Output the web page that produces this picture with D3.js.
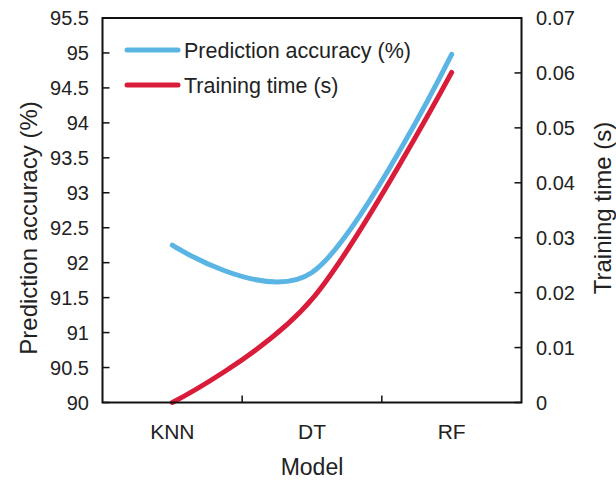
<!DOCTYPE html>
<html><head><meta charset="utf-8">
<script src="https://cdn.jsdelivr.net/npm/d3@7"></script>
<style>body{margin:0;background:#fff}text{font-family:"Liberation Sans",Arial,sans-serif;fill:#222}</style>
</head><body>
<svg id="c" width="616" height="481"></svg>
<script>
const categories = ["KNN", "DT", "RF"];
const accuracy = [92.25, 91.86, 94.98];
const trainingTime = [0.0, 0.0188, 0.0601];
const leftTicks = [90, 90.5, 91, 91.5, 92, 92.5, 93, 93.5, 94, 94.5, 95, 95.5];
const rightTicks = [0, 0.01, 0.02, 0.03, 0.04, 0.05, 0.06, 0.07];
const seriesNames = ["Prediction accuracy (%)", "Training time (s)"];
const colors = ["#5bb5e4", "#d91c3a"];

const svg = d3.select("#c");
const L = 102.5, R = 521.5, T = 18, B = 402.5;
const x = d3.scaleBand().domain(categories).range([L, R]).padding(0);
const yL = d3.scaleLinear().domain([90, 95.5]).range([B, T]);
const yR = d3.scaleLinear().domain([0, 0.07]).range([B, T]);
const cx = d => x(d) + x.bandwidth() / 2;

// lines
const curve = d3.curveCardinal.tension(0);
const lineA = d3.line().x((d, i) => cx(categories[i])).y(d => yL(d)).curve(curve);
const lineT = d3.line().x((d, i) => cx(categories[i])).y(d => yR(d)).curve(curve);
svg.append("path").attr("d", lineT(trainingTime)).attr("fill", "none")
  .attr("stroke", colors[1]).attr("stroke-width", 5).attr("stroke-linecap", "round");
svg.append("path").attr("d", lineA(accuracy)).attr("fill", "none")
  .attr("stroke", colors[0]).attr("stroke-width", 5).attr("stroke-linecap", "round");

// frame
svg.append("rect").attr("x", L).attr("y", T).attr("width", R - L).attr("height", B - T)
  .attr("fill", "none").attr("stroke", "#111").attr("stroke-width", 2);

// left axis ticks
leftTicks.forEach(v => {
  svg.append("line").attr("x1", L).attr("x2", L + 7).attr("y1", yL(v)).attr("y2", yL(v))
    .attr("stroke", "#111").attr("stroke-width", 1.5);
  svg.append("text").attr("x", 89).attr("y", yL(v)).attr("dy", "0.35em")
    .attr("text-anchor", "end").attr("font-size", 20).text(v);
});
rightTicks.forEach(v => {
  svg.append("line").attr("x1", R - 7).attr("x2", R).attr("y1", yR(v)).attr("y2", yR(v))
    .attr("stroke", "#111").attr("stroke-width", 1.5);
  svg.append("text").attr("x", 536).attr("y", yR(v)).attr("dy", "0.35em")
    .attr("text-anchor", "start").attr("font-size", 20).text(v);
});
// x ticks at band boundaries
categories.slice(1).forEach(c => {
  svg.append("line").attr("x1", x(c)).attr("x2", x(c)).attr("y1", B - 7).attr("y2", B)
    .attr("stroke", "#111").attr("stroke-width", 1.5);
});
categories.forEach(c => {
  svg.append("text").attr("x", cx(c)).attr("y", 432).attr("dy", "0.35em")
    .attr("text-anchor", "middle").attr("font-size", 21).text(c);
});

// axis titles
svg.append("text").attr("x", 312).attr("y", 467).attr("dy", "0.35em")
  .attr("text-anchor", "middle").attr("font-size", 23).text("Model");
svg.append("text").attr("transform", "translate(29,228) rotate(-90)").attr("dy", "0.35em")
  .attr("text-anchor", "middle").attr("font-size", 24).text(seriesNames[0]);
svg.append("text").attr("transform", "translate(603,208) rotate(-90)").attr("dy", "0.35em")
  .attr("text-anchor", "middle").attr("font-size", 24).text(seriesNames[1]);

// legend
seriesNames.forEach((n, i) => {
  const yy = 50 + i * 35;
  svg.append("line").attr("x1", 127).attr("x2", 178).attr("y1", yy).attr("y2", yy)
    .attr("stroke", colors[i]).attr("stroke-width", 5).attr("stroke-linecap", "round");
  svg.append("text").attr("x", 184).attr("y", yy).attr("dy", "0.35em")
    .attr("font-size", 21.5).text(n);
});
</script>
</body></html>
